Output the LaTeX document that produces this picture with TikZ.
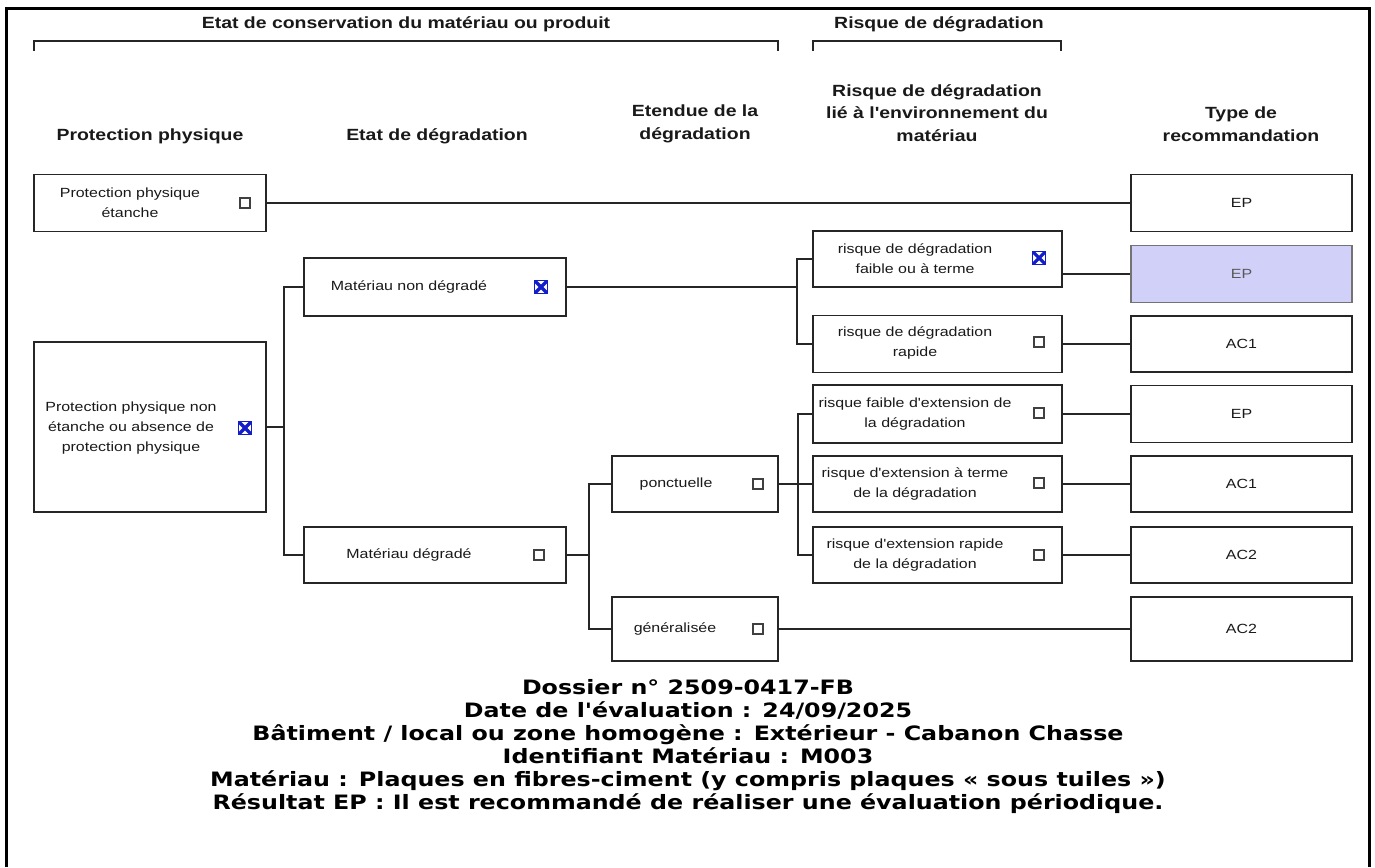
\documentclass[tikz,border=0pt]{standalone}
\usepackage{fontspec}
\newfontfamily\diagfont[FakeStretch=1.2]{Liberation Sans}
\newfontfamily\recapfont[FakeStretch=1.2]{DejaVu Sans}
\usetikzlibrary{positioning}
\definecolor{epshade}{RGB}{208,208,248}
\definecolor{tickblue}{RGB}{20,30,200}
\tikzset{
  box/.style={draw=black!85, line width=1.8pt, rectangle, inner sep=0pt},
  lbl/.style={font=\diagfont\fontsize{13.3}{20}\selectfont, align=center, inner sep=0pt, text=black!90},
  hdr/.style={font=\diagfont\fontsize{16.2}{22.5}\selectfont\bfseries, align=center, inner sep=0pt, text=black!90},
  chk/.style={draw=black!75, line width=1.1pt, minimum size=10pt, inner sep=0pt},
  xchk/.style={draw=tickblue, line width=1.2pt, minimum size=13pt, inner sep=0pt,
    path picture={\draw[tickblue, line width=3.2pt]
      (path picture bounding box.south west) -- (path picture bounding box.north east)
      (path picture bounding box.north west) -- (path picture bounding box.south east);}},
  wire/.style={draw=black!85, line width=1.8pt}
}
\begin{document}
\begin{tikzpicture}[x=1pt,y=-1pt]
\useasboundingbox (0,0) rectangle (1375,867);
\draw[line width=3pt] (6,867) -- (6,9) -- (1369,9) -- (1369,867);
% titres
\node[hdr] (conserv) at (406,24) {Etat de conservation du matériau ou produit};
\node[hdr] (risque) at (939,24) {Risque de dégradation};
\draw[wire] (34,51) |- (778,41) -- (778,51);
\draw[wire] (813,51) |- (1061,41) -- (1061,51);
\node[hdr] (colprot) at (150,136) {Protection physique};
\node[hdr] (coletat) at (437,136) {Etat de dégradation};
\node[hdr] (coletendue) at (695,124) {Etendue de la\\dégradation};
\node[hdr] (colrisque) at (937,113) {Risque de dégradation\\lié à l'environnement du\\matériau};
\node[hdr] (coltype) at (1241,124) {Type de\\recommandation};
% protection physique
\node[box, minimum width=232pt, minimum height=57pt] (etanche) at (150,203) {};
\node[lbl] at (130,203) {Protection physique\\étanche};
\node[chk] at (245,203) {};
\node[box, minimum width=232pt, minimum height=170pt] (nonetanche) at (150,427) {};
\node[lbl] at (131,428) {Protection physique non\\étanche ou absence de\\protection physique};
\node[xchk] at (245,428) {};
% etat de degradation
\node[box, minimum width=262pt, minimum height=58pt] (nondeg) at (435,287) {};
\node[lbl] at (409,287) {Matériau non dégradé};
\node[xchk] at (541,287) {};
\node[box, minimum width=262pt, minimum height=56pt] (deg) at (435,555) {};
\node[lbl] at (409,555) {Matériau dégradé};
\node[chk] at (539,555) {};
% etendue
\node[box, minimum width=166pt, minimum height=56pt] (ponct) at (695,484) {};
\node[lbl] at (676,484) {ponctuelle};
\node[chk] at (758,484) {};
\node[box, minimum width=166pt, minimum height=64pt] (general) at (695,629) {};
\node[lbl] at (675,629) {généralisée};
\node[chk] at (758,629) {};
% risque
\node[box, minimum width=249pt, minimum height=56pt] (risq1) at (937.5,259) {};
\node[lbl] at (915,259) {risque de dégradation\\faible ou à terme};
\node[xchk] at (1039,258) {};
\node[box, minimum width=249pt, minimum height=57pt] (risq2) at (937.5,344) {};
\node[lbl] at (915,343) {risque de dégradation\\rapide};
\node[chk] at (1039,342) {};
\node[box, minimum width=249pt, minimum height=58pt] (risq3) at (937.5,414) {};
\node[lbl] at (915,414) {risque faible d'extension de\\la dégradation};
\node[chk] at (1039,413) {};
\node[box, minimum width=249pt, minimum height=56pt] (risq4) at (937.5,484) {};
\node[lbl] at (915,484) {risque d'extension à terme\\de la dégradation};
\node[chk] at (1039,483) {};
\node[box, minimum width=249pt, minimum height=56pt] (risq5) at (937.5,555) {};
\node[lbl] at (915,555) {risque d'extension rapide\\de la dégradation};
\node[chk] at (1039,555) {};
% recommandation
\node[box, lbl, minimum width=221pt, minimum height=57pt] (rec1) at (1241.5,203) {EP};
\node[box, lbl, fill=epshade, draw=black!55, text=black!65, minimum width=221pt, minimum height=57pt] (rec2) at (1241.5,274) {EP};
\node[box, lbl, minimum width=221pt, minimum height=56pt] (rec3) at (1241.5,344) {AC1};
\node[box, lbl, minimum width=221pt, minimum height=57pt] (rec4) at (1241.5,414) {EP};
\node[box, lbl, minimum width=221pt, minimum height=56pt] (rec5) at (1241.5,484) {AC1};
\node[box, lbl, minimum width=221pt, minimum height=56pt] (rec6) at (1241.5,555) {AC2};
\node[box, lbl, minimum width=221pt, minimum height=64pt] (rec7) at (1241.5,629) {AC2};
% liaisons
\coordinate (j1) at (284,427);
\coordinate (j2) at (797,287);
\coordinate (j3) at (589,555);
\coordinate (j4) at (798,484);
\draw[wire] (etanche.east) -- (rec1.west);
\draw[wire] (nonetanche.east) -- (j1);
\draw[wire] (nondeg.west) -| (j1) |- (deg.west);
\draw[wire] (nondeg.east) -- (j2);
\draw[wire] (risq1.west) -| (j2) |- (risq2.west);
\draw[wire] (deg.east) -- (j3);
\draw[wire] (ponct.west) -| (j3) |- (general.west);
\draw[wire] (ponct.east) -- (risq4.west);
\draw[wire] (risq3.west) -| (j4) |- (risq5.west);
\draw[wire] (risq1.east |- rec2) -- (rec2.west);
\draw[wire] (risq2.east) -- (rec3.west);
\draw[wire] (risq3.east) -- (rec4.west);
\draw[wire] (risq4.east) -- (rec5.west);
\draw[wire] (risq5.east) -- (rec6.west);
\draw[wire] (general.east) -- (rec7.west);
% bilan
\node[font=\recapfont\bfseries\fontsize{19.8}{22.9}\selectfont, align=center, inner sep=0pt] (recap) at (688,746.5) {Dossier n° 2509-0417-FB\\
Date de l'évaluation : 24/09/2025\\
Bâtiment / local ou zone homogène : Extérieur - Cabanon Chasse\\
Identifiant Matériau : M003\\
Matériau : Plaques en fibres-ciment (y compris plaques « sous tuiles »)\\
Résultat EP : Il est recommandé de réaliser une évaluation périodique.};
\end{tikzpicture}
\end{document}
